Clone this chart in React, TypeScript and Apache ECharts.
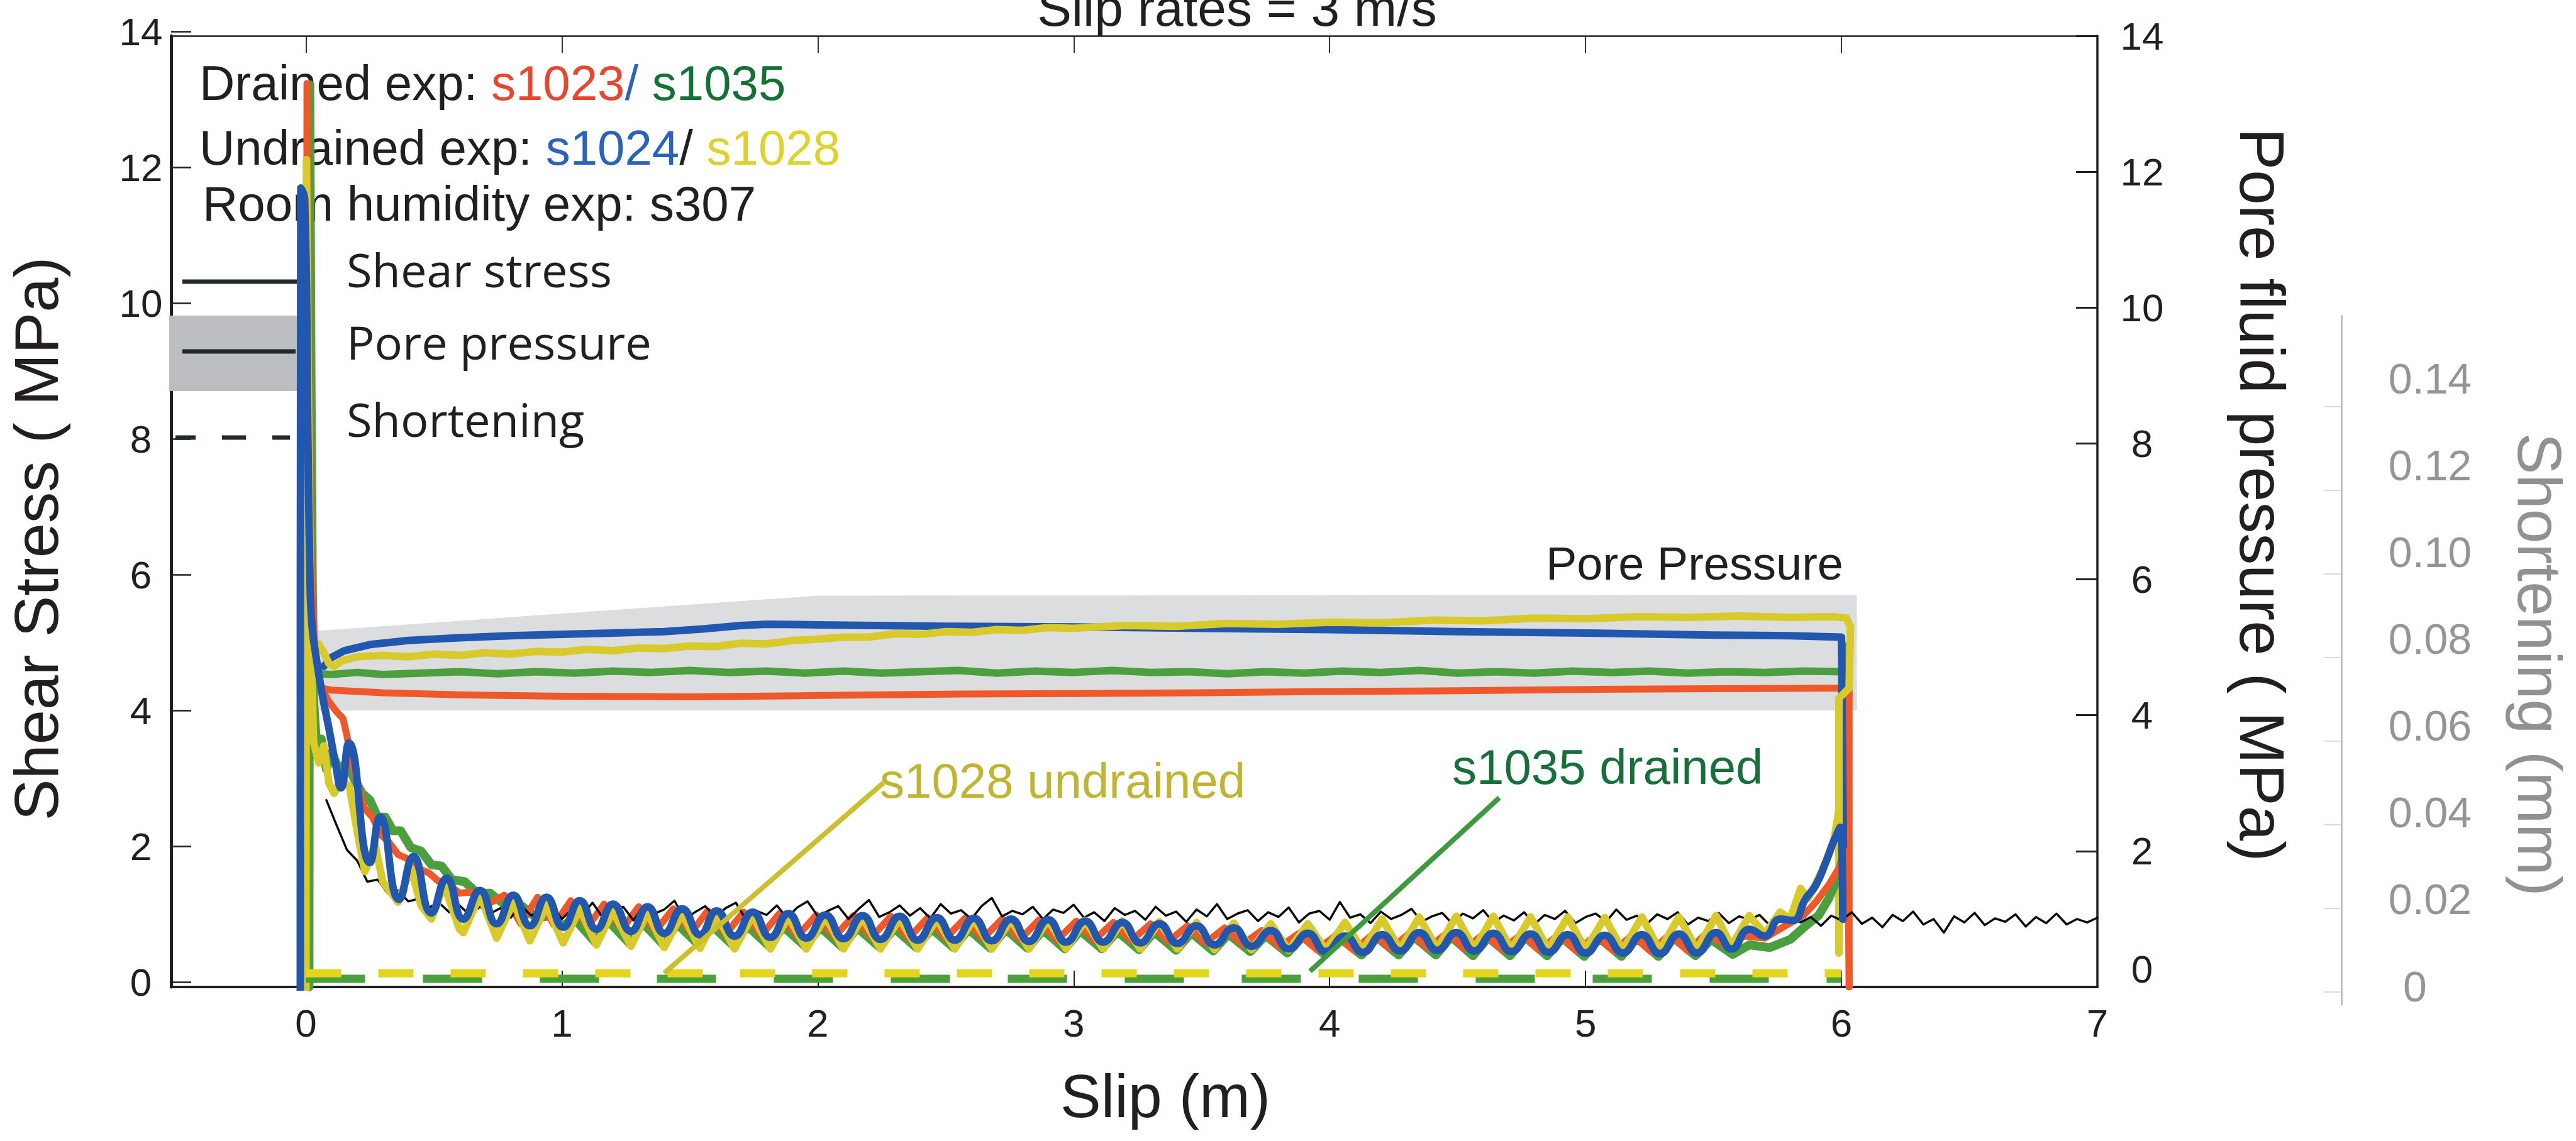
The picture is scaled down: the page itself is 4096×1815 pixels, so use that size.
import React, { useEffect, useRef } from 'react';
import * as echarts from 'echarts';

const W = 4096;
const H = 1815;
const INK = '#231f20';
const GREY_TXT = '#8f9194';
const SANS = "'Liberation Sans', Arial, Helvetica, sans-serif";
const HUMANIST = "'Open Sans', 'Noto Sans', sans-serif";

// ---------- axes ----------
const SLIP_MIN = -0.527;
const SLIP_MAX = 7;
const SLIP_TICKS = [0, 1, 2, 3, 4, 5, 6, 7];
const SLIP_TOP_TICKS = [0, 1, 2, 3, 4, 5, 6];
const STRESS_MIN = 0;
const STRESS_MAX = 14;
const STRESS_STEP = 2;
const SHORT_TICKS = [0, 0.02, 0.04, 0.06, 0.08, 0.1, 0.12, 0.14];
const SHORT_AXIS_MIN = -0.0031;
const SHORT_AXIS_MAX = 0.1617;
const SHORT_LABEL_MAX = 0.14;
const SHORT_STEP = 0.02;

// ---------- pore pressure envelope (grey band) ----------
const BAND_X = [0.035, 0.035, 2.0, 6.06, 6.06];
const BAND_Y = [4.07, 5.24, 5.76, 5.77, 4.07];

// ---------- pore pressure ----------
const RED_PORE = [[0.03,4.42],[0.1,4.37],[0.3,4.33],[0.6,4.3],[1.0,4.28],[1.5,4.27],[2.0,4.29],[2.5,4.31],[3.0,4.32],[3.5,4.33],[4.0,4.35],[4.5,4.36],[5.0,4.38],[5.5,4.39],[6.03,4.4],[6.03,0.0]];

const GREEN_PORE = [[0.006,4.23],[0.006,5.03],[0.012,4.62],[0.1,4.6],[0.2,4.63],[0.3,4.6],[0.45,4.62],[0.6,4.64],[0.75,4.61],[0.9,4.64],[1.05,4.62],[1.2,4.65],[1.35,4.63],[1.5,4.66],[1.65,4.63],[1.8,4.65],[1.95,4.62],[2.1,4.65],[2.25,4.62],[2.4,4.64],[2.55,4.66],[2.7,4.62],[2.85,4.65],[3.0,4.63],[3.15,4.66],[3.3,4.63],[3.45,4.64],[3.6,4.61],[3.75,4.64],[3.9,4.62],[4.05,4.65],[4.2,4.63],[4.35,4.66],[4.5,4.62],[4.65,4.64],[4.8,4.62],[4.95,4.65],[5.1,4.63],[5.25,4.65],[5.4,4.62],[5.55,4.64],[5.7,4.63],[5.85,4.65],[6.01,4.64],[6.02,5.02],[6.02,4.36]];

const YELLOW_PORE = [[0.025,4.3],[0.03,5.0],[0.05,5.05],[0.07,4.92],[0.09,4.76],[0.11,4.72],[0.14,4.8],[0.2,4.86],[0.3,4.88],[0.4,4.86],[0.5,4.9],[0.6,4.88],[0.7,4.92],[0.8,4.9],[0.9,4.94],[1.0,4.93],[1.1,4.97],[1.2,4.95],[1.3,4.99],[1.4,4.98],[1.5,5.02],[1.6,5.01],[1.7,5.06],[1.8,5.05],[1.9,5.1],[2.0,5.12],[2.1,5.15],[2.2,5.15],[2.3,5.2],[2.4,5.19],[2.5,5.23],[2.6,5.22],[2.7,5.26],[2.8,5.25],[2.9,5.29],[3.0,5.28],[3.2,5.32],[3.4,5.31],[3.6,5.35],[3.8,5.34],[4.0,5.37],[4.2,5.36],[4.4,5.4],[4.6,5.39],[4.8,5.43],[5.0,5.42],[5.2,5.45],[5.4,5.44],[5.6,5.46],[5.8,5.44],[5.97,5.45],[6.02,5.43],[6.035,5.3],[6.03,4.4],[5.99,4.25],[5.99,0.5]];

const BLUE_PORE = [[0.07,4.72],[0.1,4.85],[0.15,4.95],[0.25,5.04],[0.4,5.1],[0.6,5.14],[0.8,5.17],[1.0,5.19],[1.2,5.21],[1.4,5.23],[1.55,5.27],[1.7,5.32],[1.8,5.34],[2.0,5.33],[2.5,5.31],[3.0,5.3],[3.5,5.28],[4.0,5.26],[4.5,5.23],[5.0,5.21],[5.5,5.18],[5.8,5.17],[6.0,5.15],[6.01,1.0]];

// ---------- shear stress ----------
const BLUE_SHEAR = [[-0.022,-0.08],[-0.02,11.76],[-0.005,11.6],[0.008,8.0],[0.015,6.2],[0.022,5.4],[0.04,4.85],[0.064,4.3],[0.09,3.8],[0.115,3.3],[0.137,2.93],[0.168,3.59],[0.25,1.83],[0.29,2.5],[0.364,1.29],[0.42,1.92],[0.49,1.09],[0.55,1.6],[0.615,1.0],[0.68,1.42],[0.745,0.93],[0.81,1.35],[0.875,0.9],[0.94,1.32],[1.005,0.88],[1.07,1.27],[1.135,0.85],[1.2,1.22],[1.27,0.82],[1.335,1.18],[1.4,0.79],[1.47,1.15],[1.54,0.77],[1.605,1.12],[1.675,0.75],[1.745,1.1],[1.815,0.73],[1.885,1.08],[1.955,0.72],[2.03,1.06],[2.1,0.71],[2.175,1.05],[2.245,0.7],[2.32,1.04],[2.39,0.69],[2.465,1.02],[2.535,0.69],[2.61,1.01],[2.68,0.68],[2.755,1.0],[2.825,0.67],[2.9,0.99],[2.97,0.66],[3.045,0.97],[3.115,0.66],[3.19,0.95],[3.26,0.65],[3.335,0.93],[3.405,0.64],[3.48,0.9],[3.55,0.62],[3.625,0.87],[3.695,0.6],[3.77,0.83],[3.84,0.56],[3.915,0.79],[3.985,0.52],[4.06,0.75],[4.13,0.51],[4.205,0.77],[4.275,0.53],[4.35,0.8],[4.42,0.54],[4.495,0.8],[4.565,0.53],[4.64,0.79],[4.71,0.52],[4.785,0.78],[4.855,0.51],[4.93,0.77],[5.0,0.5],[5.075,0.76],[5.145,0.5],[5.22,0.77],[5.29,0.49],[5.365,0.78],[5.435,0.5],[5.51,0.8],[5.57,0.56],[5.64,0.85],[5.7,0.75],[5.76,1.0],[5.81,0.98],[5.86,1.3],[5.9,1.5],[5.94,1.85],[5.97,2.15],[5.995,2.35],[6.005,1.0]];

const RED_SHEAR = [[0.0,-0.05],[0.004,13.3],[0.012,9.0],[0.02,6.5],[0.035,4.9],[0.06,4.4],[0.09,4.2],[0.12,4.05],[0.145,3.95],[0.16,3.7],[0.18,3.3],[0.2,3.0],[0.23,2.62],[0.26,2.5],[0.29,2.25],[0.32,2.15],[0.36,1.95],[0.4,1.88],[0.44,1.74],[0.48,1.68],[0.52,1.55],[0.56,1.5],[0.6,1.38],[0.645,1.4],[0.7,1.2],[0.775,1.35],[0.84,0.93],[0.905,1.32],[0.97,0.91],[1.035,1.27],[1.1,0.88],[1.165,1.22],[1.235,0.85],[1.3,1.18],[1.365,0.82],[1.435,1.15],[1.505,0.8],[1.57,1.12],[1.64,0.78],[1.71,1.1],[1.78,0.76],[1.85,1.08],[1.92,0.75],[1.995,1.06],[2.065,0.74],[2.14,1.05],[2.21,0.73],[2.285,1.04],[2.355,0.72],[2.43,1.02],[2.5,0.72],[2.575,1.01],[2.645,0.71],[2.72,1.0],[2.79,0.7],[2.865,0.99],[2.935,0.69],[3.01,0.97],[3.08,0.69],[3.155,0.95],[3.225,0.68],[3.3,0.93],[3.37,0.67],[3.445,0.9],[3.515,0.65],[3.59,0.87],[3.66,0.63],[3.735,0.83],[3.805,0.59],[3.88,0.79],[3.95,0.55],[4.025,0.76],[4.095,0.54],[4.17,0.78],[4.24,0.56],[4.315,0.8],[4.385,0.57],[4.46,0.8],[4.53,0.56],[4.605,0.79],[4.675,0.55],[4.75,0.78],[4.82,0.54],[4.895,0.77],[4.965,0.53],[5.04,0.76],[5.11,0.53],[5.185,0.77],[5.255,0.52],[5.33,0.78],[5.4,0.53],[5.475,0.8],[5.55,0.6],[5.62,0.75],[5.7,0.72],[5.78,0.9],[5.85,1.05],[5.9,1.25],[5.95,1.5],[5.99,1.75],[6.025,2.0],[6.03,0.0]];

const GREEN_SHEAR = [[0.012,0.0],[0.015,13.28],[0.02,9.0],[0.025,6.0],[0.03,4.2],[0.045,3.4],[0.06,3.65],[0.08,3.2],[0.1,3.45],[0.13,3.2],[0.16,3.3],[0.19,3.05],[0.22,2.85],[0.25,2.75],[0.28,2.5],[0.31,2.5],[0.34,2.3],[0.37,2.3],[0.41,2.05],[0.45,2.0],[0.49,1.8],[0.53,1.78],[0.57,1.58],[0.62,1.55],[0.67,1.38],[0.72,1.38],[0.78,1.2],[0.84,1.2],[0.9,1.02],[0.96,1.05],[1.0,0.9],[1.05,1.0],[1.13,0.66],[1.18,0.98],[1.265,0.64],[1.315,0.95],[1.395,0.63],[1.45,0.93],[1.535,0.62],[1.585,0.91],[1.67,0.61],[1.725,0.9],[1.81,0.6],[1.865,0.89],[1.95,0.6],[2.01,0.88],[2.095,0.59],[2.155,0.87],[2.24,0.59],[2.3,0.86],[2.385,0.58],[2.445,0.86],[2.53,0.58],[2.59,0.85],[2.675,0.57],[2.735,0.85],[2.82,0.57],[2.88,0.84],[2.965,0.56],[3.025,0.83],[3.11,0.56],[3.17,0.82],[3.255,0.55],[3.315,0.81],[3.4,0.54],[3.46,0.8],[3.545,0.53],[3.605,0.78],[3.69,0.52],[3.75,0.76],[3.835,0.5],[3.895,0.74],[3.98,0.48],[4.04,0.72],[4.125,0.47],[4.185,0.73],[4.27,0.47],[4.33,0.74],[4.415,0.47],[4.475,0.74],[4.56,0.46],[4.62,0.73],[4.705,0.46],[4.765,0.73],[4.85,0.46],[4.91,0.72],[4.995,0.45],[5.055,0.72],[5.14,0.45],[5.2,0.72],[5.285,0.45],[5.345,0.72],[5.43,0.46],[5.49,0.7],[5.575,0.48],[5.64,0.62],[5.72,0.58],[5.8,0.7],[5.86,0.9],[5.91,1.05],[5.95,1.3],[5.985,1.6],[6.005,1.9]];

const YELLOW_SHEAR = [[0.0,-0.1],[0.002,12.18],[0.01,8.5],[0.02,5.0],[0.03,3.6],[0.05,3.3],[0.07,3.55],[0.09,3.0],[0.11,2.85],[0.14,3.05],[0.17,2.95],[0.2,2.3],[0.23,1.7],[0.27,2.1],[0.3,1.55],[0.36,1.25],[0.41,1.75],[0.45,1.2],[0.49,1.0],[0.54,1.5],[0.6,0.85],[0.615,0.8],[0.68,1.35],[0.745,0.72],[0.81,1.25],[0.875,0.68],[0.94,1.2],[1.005,0.65],[1.07,1.15],[1.135,0.62],[1.2,1.12],[1.27,0.6],[1.335,1.1],[1.4,0.58],[1.47,1.08],[1.54,0.57],[1.605,1.06],[1.675,0.56],[1.745,1.05],[1.815,0.56],[1.885,1.04],[1.955,0.56],[2.03,1.03],[2.1,0.56],[2.175,1.02],[2.245,0.56],[2.32,1.01],[2.39,0.56],[2.465,1.0],[2.535,0.56],[2.61,1.0],[2.68,0.56],[2.755,0.99],[2.825,0.56],[2.9,0.99],[2.97,0.56],[3.045,0.98],[3.115,0.56],[3.19,0.97],[3.26,0.56],[3.335,0.96],[3.405,0.56],[3.48,0.95],[3.55,0.55],[3.625,0.94],[3.695,0.55],[3.77,0.93],[3.84,0.54],[3.915,0.93],[3.985,0.54],[4.06,0.95],[4.13,0.54],[4.205,1.0],[4.275,0.55],[4.35,1.03],[4.42,0.56],[4.495,1.04],[4.565,0.56],[4.64,1.04],[4.71,0.55],[4.785,1.03],[4.855,0.55],[4.93,1.03],[5.0,0.55],[5.075,1.02],[5.145,0.54],[5.22,1.03],[5.29,0.54],[5.365,1.03],[5.435,0.55],[5.51,1.05],[5.57,0.6],[5.64,1.05],[5.7,0.78],[5.76,1.1],[5.8,1.0],[5.84,1.45],[5.87,1.3],[5.91,1.6],[5.94,1.85],[5.97,2.15],[5.99,2.6]];

const BLACK_SHEAR = [
[0.08,2.75],[0.12,2.38],[0.16,2.02],[0.20,1.86],[0.24,1.55],[0.28,1.58],[0.32,1.38],[0.36,1.42],[0.40,1.26],[0.44,1.30],
[0.48,1.17],[0.52,1.24],[0.56,1.10],[0.60,1.20],[0.64,1.06],[0.68,1.18],[0.72,1.08],[0.76,1.16],[0.80,1.02],[0.84,1.20],
[0.88,1.05],[0.92,1.14],[0.96,1.22],[1.00,1.00],[1.04,1.15],[1.08,1.06],[1.12,1.24],[1.16,1.02],[1.20,1.12],[1.24,1.18],
[1.28,0.98],[1.32,1.20],[1.36,1.08],[1.40,1.14],[1.44,1.27],[1.48,1.00],[1.52,1.10],[1.56,1.19],[1.60,1.03],[1.64,1.16],
[1.68,1.24],[1.72,0.99],[1.76,1.12],[1.80,1.06],[1.84,1.20],[1.88,1.02],[1.92,1.17],[1.96,1.26],[2.00,1.04],[2.04,1.12],
[2.08,1.19],[2.12,1.00],[2.16,1.15],[2.20,1.28],[2.24,1.03],[2.28,1.10],[2.32,1.20],[2.36,1.05],[2.40,1.16],[2.44,1.01],
[2.48,1.22],[2.52,1.08],[2.56,1.13],[2.60,1.00],[2.64,1.19],[2.68,1.31],[2.72,1.04],[2.76,1.12],[2.80,1.07],[2.84,1.18],
[2.88,1.00],[2.92,1.14],[2.96,1.09],[3.00,1.21],[3.04,1.02],[3.08,1.10],[3.12,0.97],[3.16,1.16],[3.20,1.06],[3.24,1.12],
[3.28,0.99],[3.32,1.18],[3.36,1.05],[3.40,1.11],[3.44,0.96],[3.48,1.14],[3.52,1.04],[3.56,1.22],[3.60,1.00],[3.64,1.08],
[3.68,1.13],[3.72,0.97],[3.76,1.10],[3.80,1.03],[3.84,1.17],[3.88,0.95],[3.92,1.08],[3.96,1.12],[4.00,0.99],[4.04,1.25],
[4.08,1.02],[4.12,1.07],[4.16,0.94],[4.20,1.11],[4.24,1.00],[4.28,1.06],[4.32,1.15],[4.36,0.96],[4.40,1.04],[4.44,1.09],
[4.48,0.93],[4.52,1.08],[4.56,1.01],[4.60,1.13],[4.64,0.95],[4.68,1.05],[4.72,0.98],[4.76,1.10],[4.80,0.92],[4.84,1.06],
[4.88,1.00],[4.92,1.12],[4.96,0.94],[5.00,1.03],[5.04,1.08],[5.08,0.96],[5.12,1.14],[5.16,0.99],[5.20,1.05],[5.24,0.93],
[5.28,1.07],[5.32,1.00],[5.36,1.10],[5.40,0.92],[5.44,1.02],[5.48,0.97],[5.52,1.09],[5.56,0.94],[5.60,1.04],[5.64,0.99],
[5.68,1.06],[5.72,0.91],[5.76,1.01],[5.80,1.08],[5.84,0.95],[5.88,1.03],[5.92,0.90],[5.96,1.05],[6.00,0.98],[6.04,1.10],
[6.08,0.93],[6.12,1.02],[6.16,0.88],[6.20,1.06],[6.24,0.97],[6.28,1.11],[6.32,0.92],[6.36,1.00],[6.40,0.80],[6.44,1.04],
[6.48,0.95],[6.52,1.09],[6.56,0.91],[6.60,1.01],[6.64,0.96],[6.68,1.07],[6.72,0.89],[6.76,1.03],[6.80,0.94],[6.84,1.08],
[6.88,0.92],[6.92,1.00],[6.96,0.95],[7.00,1.02]];

// ---------- shortening (mm) ----------
const YELLOW_SHORT = [[0.0,0.0044],[6.0,0.0044]];
const GREEN_SHORT = [[0.0,0.0031],[6.0,0.0031]];

// ---------- colours ----------
const C_RED = '#f0582a';
const C_GREEN = '#4c9f3d';
const C_BLUE = '#2157ae';
const C_YELLOW = '#d8ca2a';

function line(name: string, data: number[][], color: string, width: number, z: number, smooth: any = false, xi = 0, yi = 0, dash: any = 'solid') {
  return {
    type: 'line', name, data, xAxisIndex: xi, yAxisIndex: yi, z, smooth,
    symbol: 'none', showSymbol: false, silent: true, clip: true,
    lineStyle: { color, width, type: dash, cap: dash === 'solid' ? 'round' : 'butt', join: 'round' },
  };
}

function txt(text: string, x: number, y: number, fontSize: number, fill: string, o: any = {}) {
  return {
    type: 'text', x, y, z: o.z ?? 1, rotation: o.rotation ?? 0, silent: true,
    style: {
      text, fontSize, fontFamily: o.family ?? SANS, fill, lineHeight: o.lineHeight,
      align: o.align ?? 'left', verticalAlign: 'middle', rich: o.rich,
    },
  };
}

function buildOption() {
  const gridW = 3063;
  const axisTxt = { fontSize: 62, fontFamily: SANS, color: INK };
  const hiddenX = (gridIndex: number) => ({
    type: 'value', gridIndex, show: false, min: SLIP_MIN, max: SLIP_MAX,
    axisLine: { show: false, onZero: false },
  });
  return {
    animation: false,
    backgroundColor: '#ffffff',
    grid: [
      { left: 272, top: 57, width: gridW, height: 1513, containLabel: false, outerBoundsMode: 'none' },
      { left: 272, top: 50.4, width: gridW, height: 1512.3, containLabel: false, outerBoundsMode: 'none' },
      { left: 272, top: 502.6, width: gridW, height: 1095.6, containLabel: false, outerBoundsMode: 'none' },
      { left: 272, top: 602.1, width: gridW, height: 966.4, containLabel: false, outerBoundsMode: 'none' },
    ],
    xAxis: [
      {
        type: 'value', gridIndex: 0, position: 'bottom', min: SLIP_MIN, max: SLIP_MAX,
        axisLine: { show: true, onZero: false, lineStyle: { color: INK, width: 4 } },
        axisTick: { show: true, inside: true, length: 26, customValues: SLIP_TICKS, lineStyle: { color: INK, width: 2 } },
        axisLabel: { show: true, customValues: SLIP_TICKS, margin: 57, verticalAlign: 'middle', ...axisTxt },
        splitLine: { show: false },
      },
      {
        type: 'value', gridIndex: 0, position: 'top', min: SLIP_MIN, max: SLIP_MAX,
        axisLine: { show: true, onZero: false, lineStyle: { color: INK, width: 2.5 } },
        axisTick: { show: true, inside: true, length: 27, customValues: SLIP_TOP_TICKS, lineStyle: { color: INK, width: 1.8 } },
        axisLabel: { show: false },
        splitLine: { show: false },
      },
      hiddenX(1),
      hiddenX(2),
      hiddenX(3),
    ],
    yAxis: [
      {
        type: 'value', gridIndex: 0, position: 'right', min: STRESS_MIN, max: STRESS_MAX, interval: STRESS_STEP,
        axisLine: { show: true, onZero: false, lineStyle: { color: INK, width: 3.5 } },
        axisTick: { show: true, inside: true, length: 34, lineStyle: { color: INK, width: 3 } },
        axisLabel: {
          show: true, margin: 71, align: 'center', ...axisTxt,
          formatter: (v: number) => (v === 0 ? '{z|0}' : String(v)),
          rich: { z: { ...axisTxt, padding: [0, 0, 58, 0] } },
        },
        splitLine: { show: false },
      },
      {
        type: 'value', gridIndex: 0, position: 'left', min: STRESS_MIN, max: STRESS_MAX,
        axisLine: { show: true, onZero: false, lineStyle: { color: INK, width: 5 } },
        axisTick: { show: false }, axisLabel: { show: false }, splitLine: { show: false },
      },
      {
        type: 'value', gridIndex: 1, position: 'left', min: STRESS_MIN, max: STRESS_MAX, interval: STRESS_STEP,
        axisLine: { show: false, onZero: false },
        axisTick: { show: true, inside: true, length: 32, lineStyle: { color: INK, width: 2.5 } },
        axisLabel: { show: true, margin: 48, align: 'center', ...axisTxt },
        splitLine: { show: false },
      },
      {
        type: 'value', gridIndex: 2, position: 'right', offset: 388, min: SHORT_AXIS_MIN, max: SHORT_AXIS_MAX,
        axisLine: { show: true, onZero: false, lineStyle: { color: '#b3b5b7', width: 2.5 } },
        axisTick: { show: true, inside: true, length: 28, customValues: SHORT_TICKS, lineStyle: { color: '#d2d3d5', width: 1.6 } },
        axisLabel: { show: false }, splitLine: { show: false },
      },
      {
        type: 'value', gridIndex: 3, position: 'right', offset: 388, min: 0, max: SHORT_LABEL_MAX, interval: SHORT_STEP,
        axisLine: { show: false, onZero: false }, axisTick: { show: false }, splitLine: { show: false },
        axisLabel: {
          show: true, margin: 141, align: 'center', fontSize: 68, fontFamily: SANS, color: '#939598',
          formatter: (v: number) => (v === 0 ? '{z|0}' : v.toFixed(2)),
          rich: { z: { fontSize: 68, fontFamily: SANS, color: '#939598', padding: [0, 48, 0, 0] } },
        },
      },
    ],
    series: [
      {
        type: 'custom', xAxisIndex: 0, yAxisIndex: 0, z: 1, silent: true, data: [[0, 0]],
        renderItem: (_p: any, api: any) => ({
          type: 'polygon',
          shape: { points: BAND_X.map((x, i) => api.coord([x, BAND_Y[i]])) },
          style: { fill: '#dcdddf' },
        }),
      },
      line('s1023 pore', RED_PORE, C_RED, 11, 2),
      line('s1035 pore', GREEN_PORE, C_GREEN, 12, 2),
      line('s1024 pore', BLUE_PORE, C_BLUE, 12, 2),
      line('s1028 pore', YELLOW_PORE, C_YELLOW, 12, 2),
      line('s1035 shear', GREEN_SHEAR, C_GREEN, 14, 3),
      line('s1023 shear', RED_SHEAR, C_RED, 11, 4),
      line('s307 shear', BLACK_SHEAR, '#0a0a0a', 3.5, 5),
      line('s1028 shear', YELLOW_SHEAR, C_YELLOW, 12, 6),
      line('s1024 shear', BLUE_SHEAR, C_BLUE, 12, 7, 0.5),
      line('s1035 shortening', GREEN_SHORT, '#4aa03c', 13, 8, false, 3, 3, [94, 92]),
      line('s1028 shortening', YELLOW_SHORT, '#e3d51b', 13, 9, false, 3, 3, [56, 59]),
    ],
    graphic: [
      // title
      txt('Slip rates = 3 m/s', 1967, 12, 82, INK, { align: 'center' }),
      // experiment legend
      txt('{k|Drained exp: }{r|s1023}{b|/}{k| }{g|s1035}', 317, 132, 78, INK, {
        rich: { k: { fill: INK }, r: { fill: '#e8472e' }, b: { fill: '#2a62c0' }, g: { fill: '#137233' } },
      }),
      txt('{k|Undrained exp: }{b|s1024}{k|/ }{y|s1028}', 317, 235, 78, INK, {
        rich: { k: { fill: INK }, b: { fill: '#2a62c0' }, y: { fill: '#e0d22c' } },
      }),
      txt('Room humidity exp: s307', 322, 324, 78, INK),
      // line-type legend
      { type: 'rect', z: 1, silent: true, shape: { x: 269, y: 502, width: 208, height: 120 }, style: { fill: '#bcbdc0' } },
      { type: 'line', z: 1, silent: true, shape: { x1: 290, y1: 448, x2: 472, y2: 448 }, style: { stroke: '#1f292d', lineWidth: 7 } },
      { type: 'line', z: 1, silent: true, shape: { x1: 290, y1: 559, x2: 470, y2: 559 }, style: { stroke: '#1f292d', lineWidth: 7 } },
      { type: 'line', z: 1, silent: true, shape: { x1: 279, y1: 696, x2: 311, y2: 696 }, style: { stroke: '#1f292d', lineWidth: 7 } },
      { type: 'line', z: 1, silent: true, shape: { x1: 353, y1: 696, x2: 391, y2: 696 }, style: { stroke: '#1f292d', lineWidth: 7 } },
      { type: 'line', z: 1, silent: true, shape: { x1: 433, y1: 696, x2: 461, y2: 696 }, style: { stroke: '#1f292d', lineWidth: 7 } },
      txt('Shear stress', 551, 428, 74, INK, { family: HUMANIST }),
      txt('Pore pressure', 551, 543, 74, INK, { family: HUMANIST }),
      txt('Shortening', 551, 666, 74, INK, { family: HUMANIST }),
      // annotations
      txt('Pore Pressure', 2458, 896, 74, INK, { z: 10 }),
      txt('s1028 undrained', 1399, 1242, 78, '#c1b433', { z: 10 }),
      txt('s1035 drained', 2309, 1220, 78, '#17703a', { z: 10 }),
      { type: 'line', z: 10, silent: true, shape: { x1: 1405, y1: 1245, x2: 1056, y2: 1548 }, style: { stroke: '#cbbf2c', lineWidth: 8 } },
      { type: 'line', z: 10, silent: true, shape: { x1: 2384, y1: 1269, x2: 2083, y2: 1545 }, style: { stroke: '#3e9a3e', lineWidth: 8 } },
      // axis titles
      txt('Shear Stress ( MPa)', 57, 857, 99, INK, { align: 'center', rotation: Math.PI / 2, lineHeight: 100 }),
      txt('Pore fluid pressure ( MPa)', 3597, 787, 100, INK, { align: 'center', rotation: -Math.PI / 2, lineHeight: 100 }),
      txt('Shortening (mm)', 4038, 1057, 99, GREY_TXT, { align: 'center', rotation: -Math.PI / 2, lineHeight: 100 }),
      txt('Slip (m)', 1853, 1743, 97, INK, { align: 'center' }),
    ],
  };
}

export default function App() {
  const ref = useRef<HTMLDivElement>(null);
  useEffect(() => {
    document.body.style.margin = '0';
    if (!ref.current) return;
    const chart = echarts.init(ref.current, null, { renderer: 'svg', width: W, height: H });
    chart.setOption(buildOption() as any);
    return () => chart.dispose();
  }, []);
  return <div ref={ref} style={{ position: 'absolute', left: 0, top: 0, width: W, height: H, background: '#fff' }} />;
}
